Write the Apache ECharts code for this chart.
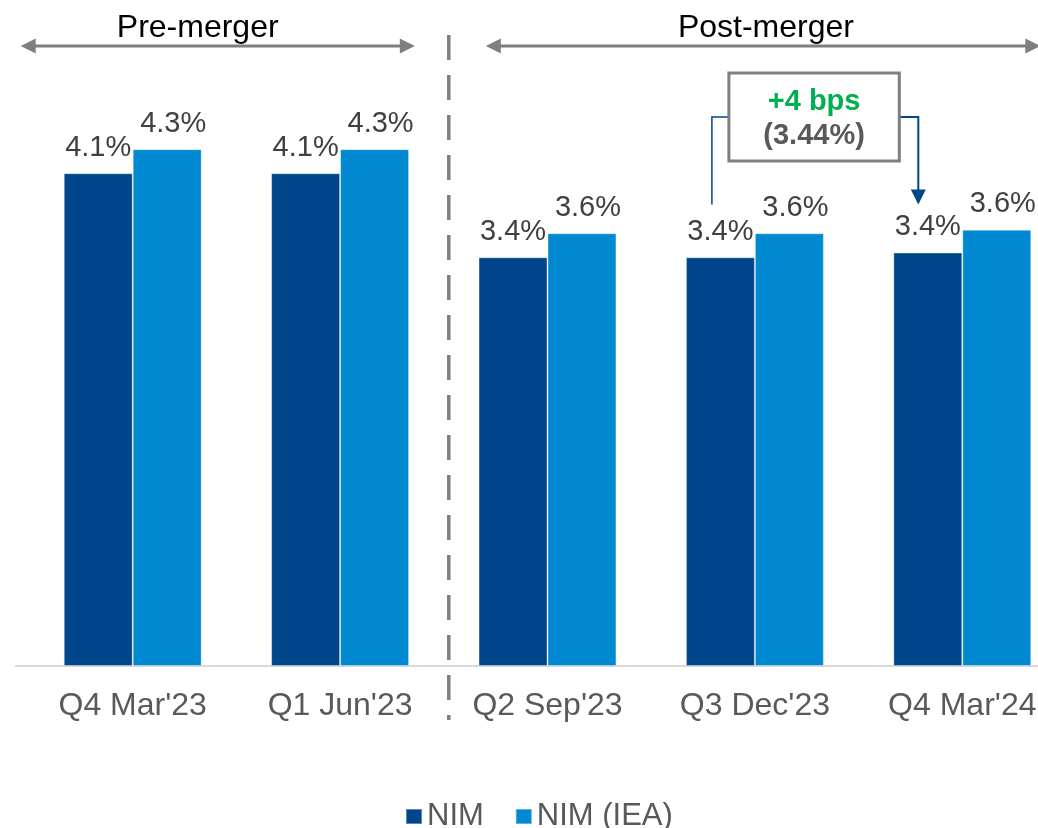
<!DOCTYPE html>
<html>
<head>
<meta charset="utf-8">
<title>NIM</title>
<script src="https://cdn.jsdelivr.net/npm/echarts/dist/echarts.min.js"></script>
<style>
  html, body { margin: 0; padding: 0; background: #fff; }
  #main { width: 1038px; height: 828px; }
</style>
</head>
<body>
<div id="main"></div>
<script>
// 数据
const categories = ["Q4 Mar'23", "Q1 Jun'23", "Q2 Sep'23", "Q3 Dec'23", "Q4 Mar'24"];
const nimValues = [4.1, 4.1, 3.4, 3.4, 3.44];
const nimIeaValues = [4.3, 4.3, 3.6, 3.6, 3.63];
const seriesNames = ['NIM', 'NIM (IEA)'];
const periodLabels = ['Pre-merger', 'Post-merger'];
const changeNote = ['+4 bps', '(3.44%)'];

const FONT = '"Liberation Sans", Arial, sans-serif';
const NAVY = '#00468a';
const BLUE = '#0089d1';
const GREY = '#7f7f7f';

const chart = echarts.init(document.getElementById('main'));

const option = {
  animation: false,
  textStyle: { fontFamily: FONT },
  // 最后一个类别被画布右边裁掉一部分，所以网格比画布宽
  grid: { left: 29, width: 1037, top: 65, height: 601, containLabel: false, outerBoundsMode: 'none' },
  legend: {
    data: seriesNames,
    left: 400,
    top: 796,
    icon: 'rect',
    itemWidth: 16,
    itemHeight: 15,
    itemGap: 31,
    textStyle: { fontSize: 31, color: '#595959', fontFamily: FONT }
  },
  xAxis: {
    type: 'category',
    data: categories,
    axisLine: { lineStyle: { color: '#d9d9d9', width: 2 } },
    axisTick: { show: false },
    axisLabel: { color: '#595959', fontSize: 32, margin: 24, fontFamily: FONT, interval: 0 }
  },
  yAxis: {
    type: 'value',
    min: 0,
    max: 5,
    show: false,
    splitLine: { show: false }
  },
  series: [
    {
      name: seriesNames[0],
      type: 'bar',
      data: nimValues,
      barGap: '0%',
      barCategoryGap: '33.5%',
      itemStyle: { color: NAVY, borderColor: 'rgba(255,255,255,0.35)', borderWidth: 1 },
      label: {
        show: true,
        position: 'top',
        distance: 11,
        fontSize: 29,
        color: '#404040',
        fontFamily: FONT,
        formatter: (p) => p.value.toFixed(1) + '%'
      }
    },
    {
      name: seriesNames[1],
      type: 'bar',
      data: nimIeaValues,
      itemStyle: { color: BLUE, borderColor: 'rgba(255,255,255,0.35)', borderWidth: 1 },
      label: {
        show: true,
        position: 'top',
        distance: 11,
        offset: [6, 0],
        fontSize: 29,
        color: '#404040',
        fontFamily: FONT,
        formatter: (p) => p.value.toFixed(1) + '%'
      }
    }
  ]
};

chart.setOption(option);

// 注释图形（分隔线、区间箭头、变动说明框）
const cx = (i) => chart.convertToPixel({ xAxisIndex: 0 }, categories[i]);
const py = (v) => chart.convertToPixel({ yAxisIndex: 0 }, v);

const arrowLine = (x1, x2, y) => [
  { type: 'line', shape: { x1: x1 + 12, y1: y, x2: x2 - 12, y2: y }, style: { stroke: GREY, lineWidth: 3 } },
  { type: 'polygon', shape: { points: [[x1, y], [x1 + 15, y - 7.5], [x1 + 15, y + 7.5]] }, style: { fill: GREY } },
  { type: 'polygon', shape: { points: [[x2, y], [x2 - 15, y - 7.5], [x2 - 15, y + 7.5]] }, style: { fill: GREY } }
];

const buildGraphic = () => {
  const base = py(0);
  const boundary = (cx(1) + cx(2)) / 2;
  const arrowY = 46;
  const titleY = 28;
  const preL = cx(0) - 112, preR = boundary - 29;
  const postL = boundary + 42, postR = cx(4) + 78;

  const boxL = cx(3) - 26, boxR = cx(4) - 63, boxT = 73, boxB = 161;
  const connY = 117;
  const tipY = py(nimValues[4]) - 48;
  const lx = cx(3) - 43, rx = cx(4) - 44;

  return [
    { type: 'line', shape: { x1: 15, y1: base, x2: 30, y2: base }, style: { stroke: '#d9d9d9', lineWidth: 2 } },
    { type: 'line', shape: { x1: boundary + 5, y1: 35, x2: boundary + 5, y2: 720 },
      style: { stroke: GREY, lineWidth: 3.5, lineDash: [25, 15] } },
    ...arrowLine(preL, preR, arrowY),
    ...arrowLine(postL, postR, arrowY),
    { type: 'text', x: cx(0) + 65, y: titleY,
      style: { text: periodLabels[0], font: '32px ' + FONT, fill: '#000', align: 'center', verticalAlign: 'middle' } },
    { type: 'text', x: cx(3) + 11, y: titleY,
      style: { text: periodLabels[1], font: '32px ' + FONT, fill: '#000', align: 'center', verticalAlign: 'middle' } },
    { type: 'polyline', shape: { points: [[boxL, connY], [lx, connY], [lx, tipY]] },
      style: { stroke: NAVY, lineWidth: 1.5, fill: null } },
    { type: 'polyline', shape: { points: [[boxR, connY], [rx, connY], [rx, tipY - 14]] },
      style: { stroke: NAVY, lineWidth: 2, fill: null } },
    { type: 'polygon', shape: { points: [[rx, tipY], [rx - 7.5, tipY - 15], [rx + 7.5, tipY - 15]] }, style: { fill: NAVY } },
    { type: 'rect', shape: { x: boxL, y: boxT, width: boxR - boxL, height: boxB - boxT },
      style: { fill: '#fff', stroke: GREY, lineWidth: 3 } },
    { type: 'text', x: (boxL + boxR) / 2, y: 102,
      style: { text: changeNote[0], font: 'bold 29px ' + FONT, fill: '#00b050', align: 'center', verticalAlign: 'middle' } },
    { type: 'text', x: (boxL + boxR) / 2, y: 136,
      style: { text: changeNote[1], font: 'bold 29px ' + FONT, fill: '#595959', align: 'center', verticalAlign: 'middle' } }
  ];
};

chart.setOption({ graphic: buildGraphic() });

window.addEventListener('resize', () => {
  chart.resize();
});
</script>
</body>
</html>
